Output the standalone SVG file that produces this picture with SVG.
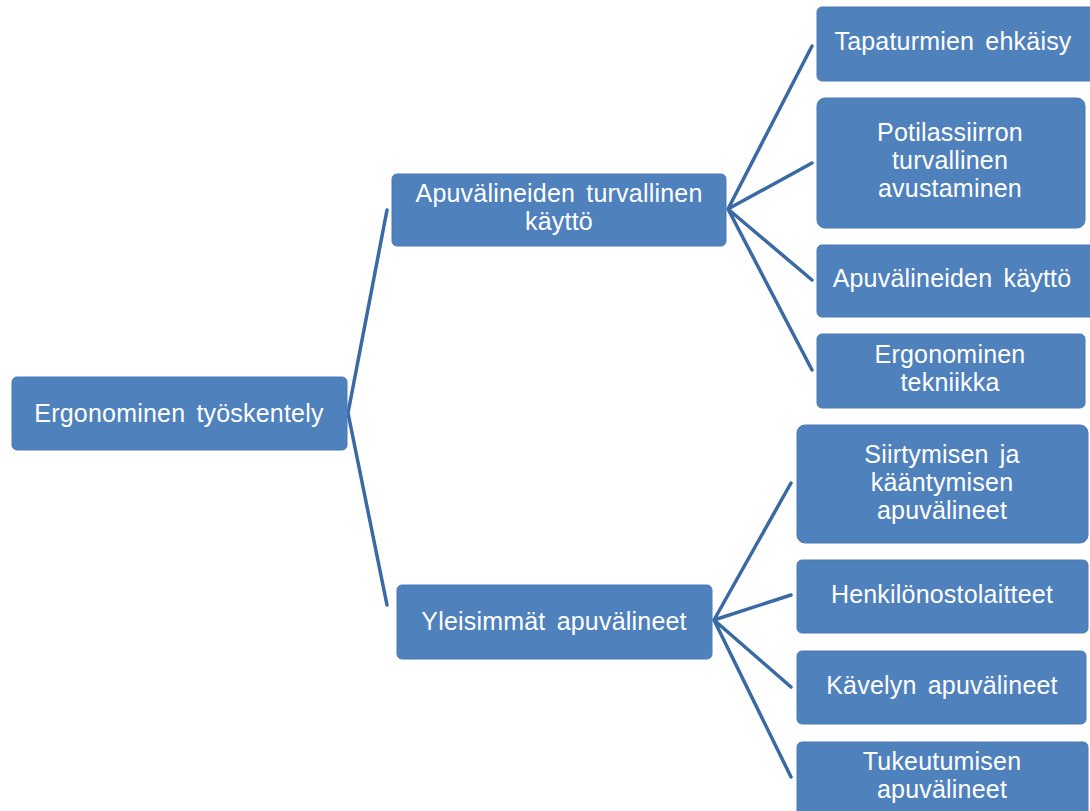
<svg xmlns="http://www.w3.org/2000/svg" width="1090" height="811" viewBox="0 0 1090 811">
<style>
.box{fill:#4F81BD;stroke:#4A7BB6;stroke-width:1}
.t{font-family:"Liberation Sans",Arial,sans-serif;font-size:25px;fill:#FFFFFF;text-anchor:middle;word-spacing:4px;letter-spacing:0.2px}
.c{stroke:#3A6AA3;stroke-width:3.5;fill:none;stroke-linecap:round}
</style>
<rect width="1090" height="811" fill="#FFFFFF"/>
<g id="connectors">
<path class="c" d="M348,413 L387,210 M348,413 L387,605"/>
<path class="c" d="M728,209 L812,46 M728,209 L812,163 M728,209 L812,280 M728,209 L812,370"/>
<path class="c" d="M714,620 L791,483 M714,620 L791,595 M714,620 L791,687 M714,620 L791,777"/>
</g>
<g id="root"><rect class="box" x="12" y="377" width="335" height="73" rx="5"/><text class="t" x="179" y="422">Ergonominen työskentely</text></g>
<g id="a"><rect class="box" x="392" y="174" width="334" height="72" rx="5"/><text class="t" x="559" y="202">Apuvälineiden turvallinen</text><text class="t" x="559" y="230">käyttö</text></g>
<g id="b"><rect class="box" x="397" y="585" width="315" height="74" rx="5"/><text class="t" x="554" y="630">Yleisimmät apuvälineet</text></g>
<g id="a1"><rect class="box" x="817" y="7" width="280" height="74" rx="5"/><text class="t" x="953" y="50">Tapaturmien ehkäisy</text></g>
<g id="a2"><rect class="box" x="817" y="98" width="268" height="130" rx="8"/><text class="t" x="950" y="141">Potilassiirron</text><text class="t" x="950" y="169">turvallinen</text><text class="t" x="950" y="197">avustaminen</text></g>
<g id="a3"><rect class="box" x="817" y="245" width="280" height="72" rx="5"/><text class="t" x="952" y="287">Apuvälineiden käyttö</text></g>
<g id="a4"><rect class="box" x="817" y="334" width="268" height="74" rx="5"/><text class="t" x="950" y="363">Ergonominen</text><text class="t" x="950" y="391">tekniikka</text></g>
<g id="b1"><rect class="box" x="797" y="425" width="291" height="118" rx="8"/><text class="t" x="942" y="463">Siirtymisen ja</text><text class="t" x="942" y="491">kääntymisen</text><text class="t" x="942" y="519">apuvälineet</text></g>
<g id="b2"><rect class="box" x="797" y="560" width="291" height="73" rx="5"/><text class="t" x="942" y="603">Henkilönostolaitteet</text></g>
<g id="b3"><rect class="box" x="797" y="651" width="289" height="73" rx="5"/><text class="t" x="942" y="694">Kävelyn apuvälineet</text></g>
<g id="b4"><rect class="box" x="797" y="742" width="291" height="80" rx="5"/><text class="t" x="942" y="770">Tukeutumisen</text><text class="t" x="942" y="798">apuvälineet</text></g>
</svg>
